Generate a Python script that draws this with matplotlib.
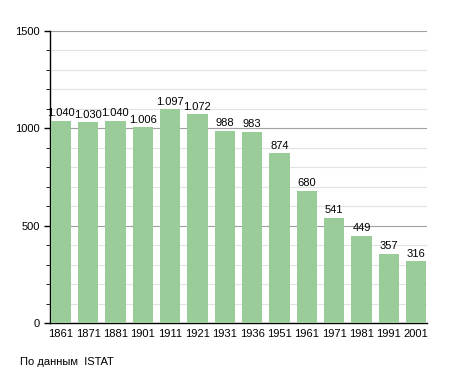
import matplotlib
matplotlib.use("Agg")
import matplotlib.pyplot as plt
from matplotlib.ticker import MultipleLocator

# census years and population
years = ["1861", "1871", "1881", "1901", "1911", "1921", "1931",
         "1936", "1951", "1961", "1971", "1981", "1991", "2001"]
population = [1040, 1030, 1040, 1006, 1097, 1072, 988,
              983, 874, 680, 541, 449, 357, 316]
value_labels = ["1.040", "1.030", "1.040", "1.006", "1.097", "1.072", "988",
                "983", "874", "680", "541", "449", "357", "316"]

plt.rcParams["font.family"] = "Liberation Sans"

fig = plt.figure(figsize=(4.55, 3.73), dpi=100)
ax = fig.add_axes([0.11, 0.134, 0.828, 0.783])

x = range(len(years))
ax.bar(x, population, width=0.74, color="#99cc99", zorder=3)
for i, (v, lab) in enumerate(zip(population, value_labels)):
    ax.text(i, v + 12, lab, ha="center", va="bottom", fontsize=8)

ax.set_xlim(-0.39, len(years) - 0.61)
ax.set_ylim(0, 1500)
ax.set_xticks(list(x))
ax.set_xticklabels(years, fontsize=8)
ax.yaxis.set_major_locator(MultipleLocator(500))
ax.yaxis.set_minor_locator(MultipleLocator(100))
ax.tick_params(axis="y", labelsize=8, length=4, width=1)
ax.tick_params(axis="y", which="minor", length=3)
ax.tick_params(axis="x", length=0, pad=4)

ax.grid(axis="y", which="major", color="#a0a0a0", lw=0.8, zorder=0)
ax.grid(axis="y", which="minor", color="#e3e3e3", lw=0.8, zorder=0)
for s in ["top", "right"]:
    ax.spines[s].set_visible(False)
ax.spines["left"].set_linewidth(1)
ax.spines["bottom"].set_linewidth(1)

fig.text(20 / 455, 1 - 362 / 373, "По данным  ISTAT", fontsize=8, va="center")

fig.savefig("out.png", dpi=100)
